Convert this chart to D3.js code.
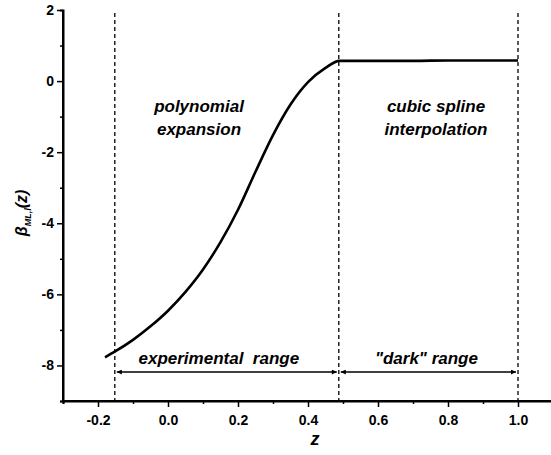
<!DOCTYPE html>
<html>
<head>
<meta charset="utf-8">
<script src="https://cdn.jsdelivr.net/npm/d3@7"></script>
<style>
  body { margin: 0; background: #fff; }
  text { font-family: "Liberation Sans", Arial, sans-serif; font-weight: bold; }
</style>
</head>
<body>
<div class="chart"></div>
<script>
// curve
const zVals = [-0.18, -0.15, -0.1, -0.05, 0.0, 0.05, 0.1, 0.15, 0.2, 0.25, 0.3, 0.35, 0.4, 0.45, 0.49, 0.6, 0.7, 0.8, 0.9, 1.0];
const betaVals = [-7.77, -7.6, -7.28, -6.9, -6.46, -5.93, -5.3, -4.53, -3.62, -2.55, -1.52, -0.66, -0.03, 0.37, 0.57, 0.57, 0.57, 0.58, 0.58, 0.58];

const xTicks = [-0.2, 0.0, 0.2, 0.4, 0.6, 0.8, 1.0];
const xMinor = [-0.3, -0.1, 0.1, 0.3, 0.5, 0.7, 0.9];
const yTicks = [2, 0, -2, -4, -6, -8];
const yMinor = [1, -1, -3, -5, -7, -9];

const boundaries = [-0.152, 0.488, 1.0];
const rangeLabels = [
  { text: "experimental  range", from: -0.152, to: 0.488 },
  { text: "\"dark\" range", from: 0.488, to: 1.0 }
];

var width = 551, height = 455;
var svg = d3.select(".chart")
  .append("svg")
  .attr("width", width)
  .attr("height", height);

var x = d3.scaleLinear().domain([-0.3, 1.1]).range([63, 553]);
var y = d3.scaleLinear().domain([-9, 2]).range([401, 10]);

// x axis
var xAxis = svg.append("g")
  .attr("transform", "translate(0," + y(-9) + ")")
  .call(d3.axisBottom(x).tickValues(xTicks).tickSize(6).tickPadding(8).tickFormat(d => d.toFixed(1)));
svg.append("g")
  .attr("transform", "translate(0," + y(-9) + ")")
  .call(d3.axisBottom(x).tickValues(xMinor).tickSize(3).tickFormat(""));

// y axis
var yAxis = svg.append("g")
  .attr("transform", "translate(" + x(-0.3) + ",0)")
  .call(d3.axisLeft(y).tickValues(yTicks).tickSize(6).tickPadding(3).tickFormat(d => String(d)));
svg.append("g")
  .attr("transform", "translate(" + x(-0.3) + ",0)")
  .call(d3.axisLeft(y).tickValues(yMinor).tickSize(3).tickFormat(""));

svg.selectAll(".domain").attr("stroke", "#000").attr("stroke-width", 2);
svg.selectAll(".tick line").attr("stroke", "#000").attr("stroke-width", 1.5);
svg.selectAll(".tick text").attr("font-size", 14).attr("font-weight", "bold").attr("fill", "#000");
xAxis.selectAll(".domain").attr("d", "M" + x(-0.3) + ",0H" + width);
yAxis.selectAll(".domain").attr("d", "M0," + y(2) + "V" + y(-9));

// dashed boundaries
svg.append("g")
  .selectAll("line")
  .data(boundaries)
  .enter()
  .append("line")
  .attr("x1", d => x(d)).attr("x2", d => x(d))
  .attr("y1", 13).attr("y2", y(-9))
  .attr("stroke", "#000")
  .attr("stroke-width", 1.3)
  .attr("stroke-dasharray", "4,3");

// curve
var pts = zVals.map((z, i) => ({ z: z, b: betaVals[i] }));
svg.append("path")
  .datum(pts)
  .attr("fill", "none")
  .attr("stroke", "#000")
  .attr("stroke-width", 2.6)
  .attr("d", d3.line()
    .x(d => x(d.z))
    .y(d => y(d.b))
    .curve(d3.curveMonotoneX));

// arrows
var defs = svg.append("defs");
defs.append("marker")
  .attr("id", "ah")
  .attr("viewBox", "0 0 10 10")
  .attr("refX", 10).attr("refY", 5)
  .attr("markerWidth", 6).attr("markerHeight", 5)
  .attr("markerUnits", "userSpaceOnUse")
  .attr("orient", "auto-start-reverse")
  .append("path")
  .attr("d", "M0,0L10,5L0,10Z")
  .attr("fill", "#000");

var arrowY = 372;
var labelShift = [-8, -2];
svg.append("g")
  .selectAll("line")
  .data(rangeLabels)
  .enter()
  .append("line")
  .attr("x1", d => x(d.from) + 2).attr("x2", d => x(d.to) - 2)
  .attr("y1", arrowY).attr("y2", arrowY)
  .attr("stroke", "#000")
  .attr("stroke-width", 1.5)
  .attr("marker-start", "url(#ah)")
  .attr("marker-end", "url(#ah)");

svg.append("g")
  .selectAll("text")
  .data(rangeLabels)
  .enter()
  .append("text")
  .attr("x", (d, i) => (x(d.from) + x(d.to)) / 2 + labelShift[i])
  .attr("y", arrowY - 8)
  .attr("text-anchor", "middle")
  .attr("font-size", 17)
  .attr("font-style", "italic")
  .style("white-space", "pre")
  .text(d => d.text);

// region notes
function note(cx, lines) {
  svg.append("text")
    .attr("text-anchor", "middle")
    .attr("font-size", 17)
    .attr("font-style", "italic")
    .selectAll("tspan")
    .data(lines)
    .enter()
    .append("tspan")
    .attr("x", cx)
    .attr("y", (d, i) => 112 + i * 23)
    .text(d => d);
}
note(199, ["polynomial", "expansion"]);
note(436, ["cubic spline", "interpolation"]);

// axis titles
svg.append("text")
  .attr("x", 315).attr("y", 445)
  .attr("text-anchor", "middle")
  .attr("font-size", 18)
  .attr("font-style", "italic")
  .text("z");

var yl = svg.append("text")
  .attr("transform", "translate(27,213) rotate(-90)")
  .attr("text-anchor", "middle")
  .attr("font-size", 16)
  .attr("font-style", "italic");
yl.append("tspan").text("β");
yl.append("tspan").attr("font-size", 9).attr("dy", 4).text("ML,l");
yl.append("tspan").attr("dy", -4).text("(z)");
</script>
</body>
</html>
